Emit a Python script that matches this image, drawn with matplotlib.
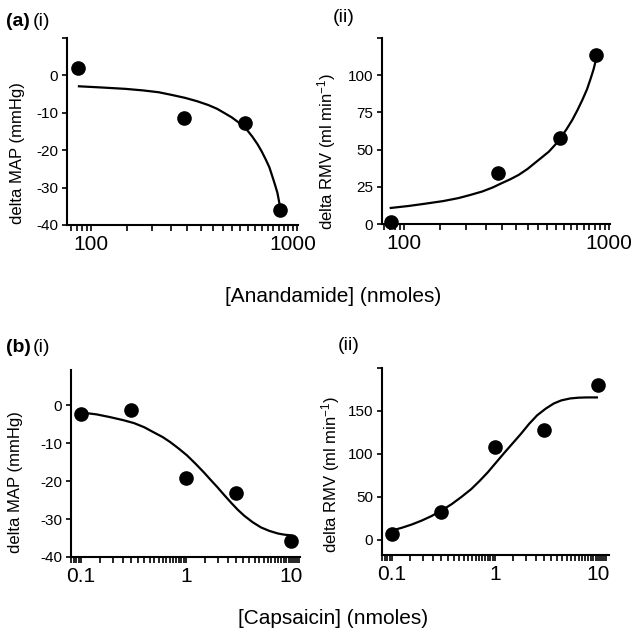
import matplotlib
matplotlib.use("Agg")
import matplotlib.pyplot as plt
import numpy as np

plt.rcParams['font.family'] = ['Liberation Sans', 'DejaVu Sans']
plt.rcParams['mathtext.fontset'] = 'custom'
plt.rcParams['mathtext.rm'] = 'Liberation Sans'
plt.rcParams['mathtext.it'] = 'Liberation Sans'

# (a) anandamide, doses in nmoles
anan_dose = [86, 288, 576, 864]
anan_map = [2.0, -11.4, -12.8, -35.9]
anan_rmv = [1.5, 34.1, 58.0, 113.9]

# fitted curves
anan_map_fit_x = [86, 110, 148, 180, 216, 250, 292, 335, 380, 420, 459, 497, 533, 565, 597, 630,
                  668, 700, 734, 765, 791, 815, 838, 863]
anan_map_fit_y = [-2.9, -3.2, -3.6, -4.0, -4.5, -5.2, -6.0, -6.9, -7.9, -8.9, -10.1, -11.2, -12.4,
                  -13.6, -14.8, -16.4, -18.4, -20.3, -22.5, -24.6, -27.0, -29.2, -31.4, -35.0]
anan_rmv_fit_x = [85, 105, 126, 155, 184, 210, 240, 270, 300, 330, 362, 400, 437, 470, 508, 545,
                  580, 620, 661, 700, 740, 780, 813, 840, 861]
anan_rmv_fit_y = [10.7, 12.1, 13.6, 15.4, 17.4, 19.5, 21.8, 24.5, 27.5, 30.1, 33.0, 37.0, 41.3,
                  44.8, 48.6, 53.2, 58.0, 63.7, 69.9, 76.4, 83.3, 90.5, 97.8, 104.0, 110.0]

# (b) capsaicin, doses in nmoles
caps_dose = [0.1, 0.3, 1, 3, 10]
caps_map = [-2.2, -1.3, -19.2, -23.2, -35.8]
caps_rmv = [7.0, 32.4, 107.6, 128.0, 180.0]

caps_map_fit_x = [0.1, 0.14, 0.187, 0.25, 0.319, 0.4, 0.489, 0.6, 0.706, 0.85, 1.02, 1.23, 1.48,
                  1.72, 1.99, 2.3, 2.67, 3.1, 3.58, 4.3, 5.18, 6.2, 7.5, 8.6, 10]
caps_map_fit_y = [-1.9, -2.4, -3.1, -3.9, -4.7, -5.8, -7.1, -8.4, -9.7, -11.4, -13.2, -15.4, -17.7,
                  -19.7, -21.6, -23.6, -25.6, -27.5, -29.1, -30.8, -32.2, -33.1, -33.8, -34.1, -34.3]
caps_rmv_fit_x = [0.1, 0.125, 0.156, 0.195, 0.242, 0.3, 0.378, 0.47, 0.588, 0.71, 0.85, 1.02, 1.23,
                  1.48, 1.78, 2.15, 2.57, 3.1, 3.72, 4.4, 5.37, 6.5, 7.8, 10]
caps_rmv_fit_y = [10.5, 13.8, 17.6, 22.2, 27.4, 33.6, 41.1, 49.5, 58.8, 68.4, 78.3, 89.5, 101.0,
                  112.0, 123.0, 135.0, 144.9, 152.5, 158.6, 162.2, 164.5, 165.4, 165.7, 165.7]

MAP_LABEL = 'delta MAP (mmHg)'
RMV_LABEL = r'delta RMV (ml min$^{-1}$)'

W = H = 640.0


def px_axes(fig, left, top, right, bottom):
    return fig.add_axes([left / W, 1 - bottom / H, (right - left) / W, (bottom - top) / H])


def style(ax, xlim, ylim, xmaj, xlabels, xminor, yticks, ylabels):
    for s in ('top', 'right'):
        ax.spines[s].set_visible(False)
    for s in ('left', 'bottom'):
        ax.spines[s].set_linewidth(1.5)
    ax.set_xscale('log')
    ax.set_xlim(xlim)
    ax.set_ylim(ylim)
    ax.set_xticks(xmaj, xlabels)
    ax.set_xticks(xminor, minor=True)
    ax.xaxis.set_minor_formatter(matplotlib.ticker.NullFormatter())
    ax.set_yticks(yticks, ylabels)
    ax.tick_params(axis='x', which='both', direction='out', length=4, width=1.2,
                   labelsize=15, pad=3)
    ax.tick_params(axis='y', direction='out', length=3.5, width=1.2, labelsize=11, pad=3)


def draw(ax, x, y, fx, fy):
    ax.plot(fx, fy, color='black', lw=1.6, solid_joinstyle='round', solid_capstyle='butt')
    ax.plot(x, y, 'o', color='black', ms=9.5, clip_on=False, zorder=3)


fig = plt.figure(figsize=(6.4, 6.4), dpi=100)

a_minor = list(np.arange(80, 100, 5)) + list(np.arange(150, 1000, 50)) + [1050]
b_minor = list(np.arange(0.08, 0.1, 0.005)) + list(np.arange(0.15, 1.0, 0.05)) + \
    list(np.arange(1.5, 10, 0.5)) + [10.5, 11, 11.5, 12]

ax1 = px_axes(fig, 67, 38, 298, 225)
style(ax1, (76, 1060), (-40, 10), [100, 1000], ['100', '1000'], a_minor,
      [-40, -30, -20, -10, 0, 10], ['-40', '-30', '-20', '-10', '0', ''])
draw(ax1, anan_dose, anan_map, anan_map_fit_x, anan_map_fit_y)

ax2 = px_axes(fig, 382, 38, 610, 224)
style(ax2, (78, 1010), (0, 125), [100, 1000], ['100', '1000'], a_minor[:-1],
      [0, 25, 50, 75, 100, 125], ['0', '25', '50', '75', '100', ''])
draw(ax2, anan_dose, anan_rmv, anan_rmv_fit_x, anan_rmv_fit_y)

ax3 = px_axes(fig, 71, 370, 300, 557)
style(ax3, (0.08, 12.2), (-40, 9.3), [0.1, 1, 10], ['0.1', '1', '10'], b_minor,
      [-40, -30, -20, -10, 0], ['-40', '-30', '-20', '-10', '0'])
draw(ax3, caps_dose, caps_map, caps_map_fit_x, caps_map_fit_y)

ax4 = px_axes(fig, 382, 368, 609, 555)
style(ax4, (0.083, 12.8), (-18, 200), [0.1, 1, 10], ['0.1', '1', '10'], b_minor,
      [0, 50, 100, 150, 200], ['0', '50', '100', '150', ''])
draw(ax4, caps_dose, caps_rmv, caps_rmv_fit_x, caps_rmv_fit_y)


def ftext(x, y, s, **kw):
    fig.text(x / W, 1 - y / H, s, **kw)


# y axis titles
ftext(18, 153, MAP_LABEL, rotation=90, ha='center', va='center', fontsize=12)
ftext(327, 151, RMV_LABEL, rotation=90, ha='center', va='center', fontsize=12)
ftext(16, 482, MAP_LABEL, rotation=90, ha='center', va='center', fontsize=12)
ftext(331, 474, RMV_LABEL, rotation=90, ha='center', va='center', fontsize=12)

# shared x axis titles
ftext(333, 296, '[Anandamide] (nmoles)', ha='center', va='center', fontsize=15)
ftext(333, 619, '[Capsaicin] (nmoles)', ha='center', va='center', fontsize=15)

# panel letters
ftext(6, 21, '(a)', ha='left', va='center', fontsize=14, fontweight='bold')
ftext(33, 21, '(i)', ha='left', va='center', fontsize=14)
ftext(333, 18, '(ii)', ha='left', va='center', fontsize=14)
ftext(6, 348, '(b)', ha='left', va='center', fontsize=14, fontweight='bold')
ftext(33, 348, '(i)', ha='left', va='center', fontsize=14)
ftext(338, 346, '(ii)', ha='left', va='center', fontsize=14)

fig.savefig('out.png', dpi=100)
